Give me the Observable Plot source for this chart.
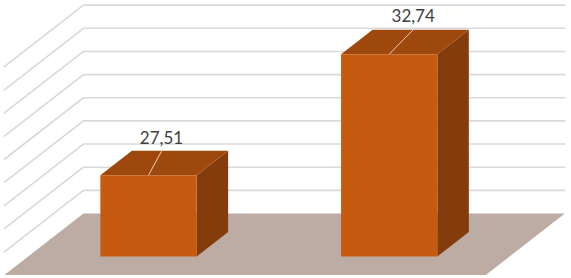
<!DOCTYPE html>
<html>
<head>
<meta charset="utf-8">
<script src="https://cdn.jsdelivr.net/npm/d3@7"></script>
<script src="https://cdn.jsdelivr.net/npm/@observablehq/plot@0.6"></script>
<style>
  html, body { margin: 0; padding: 0; background: #ffffff; }
  #chart svg { display: block; }
</style>
</head>
<body>
<div id="chart"></div>
<script>
// ---- data ----
const categories = ["Série 1", "Série 2"];
const values = [27.51, 32.74];
const valueLabels = ["27,51", "32,74"];
const gridTicks = [25, 26, 27, 28, 29, 30, 31, 32, 33];
const axisMin = 24;
const axisMax = 33;

// ---- layout (pixels) ----
const W = 571, H = 278;
const X0 = 27.65, XU = 240.7;   // front plane: category units
const Y0 = 256, YU = 23.15;     // front plane: value units
const DXP = 31.5, DYP = 24.5;   // pixel shift per unit of depth
const barW = 0.4;
const zFront = -0.755, zBack = 1.755;
// label offsets in pixels from the bar's front-top centre
const leaderOff = [[13, -24], [24, -24.4]];
const textUp = 13;

// oblique projection expressed in data units of the two linear scales
const P = (x, v, z) => ({x: x + z * DXP / XU, y: v + z * DYP / YU});

const centers = categories.map((c, i) => i + 0.5);

// gridlines: back wall + left wall
const gridSegs = [];
gridTicks.forEach((t, k) => {
  const a = P(0, t, zBack), b = P(2, t, zBack), c = P(0, t, zFront);
  gridSegs.push({...c, id: k}, {...a, id: k}, {...b, id: k});
});

// floor
const floor = [P(0, axisMin, zFront), P(2, axisMin, zFront), P(2, axisMin, zBack), P(0, axisMin, zBack)]
  .map(p => ({...p, id: 0}));

const fronts = [], tops = [], sides = [], leaders = [], labels = [];
values.forEach((v, i) => {
  const l = centers[i] - barW / 2, r = centers[i] + barW / 2;
  [P(l, axisMin, 0), P(r, axisMin, 0), P(r, v, 0), P(l, v, 0)].forEach(p => fronts.push({...p, id: i}));
  [P(l, v, 0), P(r, v, 0), P(r, v, 1), P(l, v, 1)].forEach(p => tops.push({...p, id: i}));
  [P(r, axisMin, 0), P(r, axisMin, 1), P(r, v, 1), P(r, v, 0)].forEach(p => sides.push({...p, id: i}));
  const a = P(centers[i], v, 0);
  const b = {x: a.x + leaderOff[i][0] / XU, y: a.y - leaderOff[i][1] / YU};
  leaders.push({x1: a.x, y1: a.y, x2: b.x, y2: b.y});
  labels.push({x: b.x, y: b.y + textUp / YU, text: valueLabels[i]});
});

const poly = (data, fill) => Plot.line(data, {x: "x", y: "y", z: "id", fill, stroke: "none", curve: "linear-closed"});

const chart = Plot.plot({
  width: W,
  height: H,
  margin: 0,
  style: {background: "#ffffff", overflow: "visible"},
  x: {type: "linear", domain: [0, 2], range: [X0, X0 + 2 * XU], axis: null},
  y: {type: "linear", domain: [axisMin, axisMax], range: [Y0, Y0 - (axisMax - axisMin) * YU], axis: null},
  marks: [
    Plot.line(gridSegs, {x: "x", y: "y", z: "id", stroke: "#d9d9d9", strokeWidth: 1.6}),
    poly(floor, "#bcaca4"),
    poly(sides, "#843c0c"),
    poly(tops, "#9e480e"),
    poly(fronts, "#c55a11"),
    Plot.link(leaders, {x1: "x1", y1: "y1", x2: "x2", y2: "y2", stroke: "#f0cfb2", strokeWidth: 1}),
    Plot.text(labels, {x: "x", y: "y", text: "text", fill: "#404040", fontSize: 17,
      fontFamily: "Lato", textAnchor: "middle", lineAnchor: "middle"})
  ]
});
document.getElementById("chart").appendChild(chart);
</script>
</body>
</html>
